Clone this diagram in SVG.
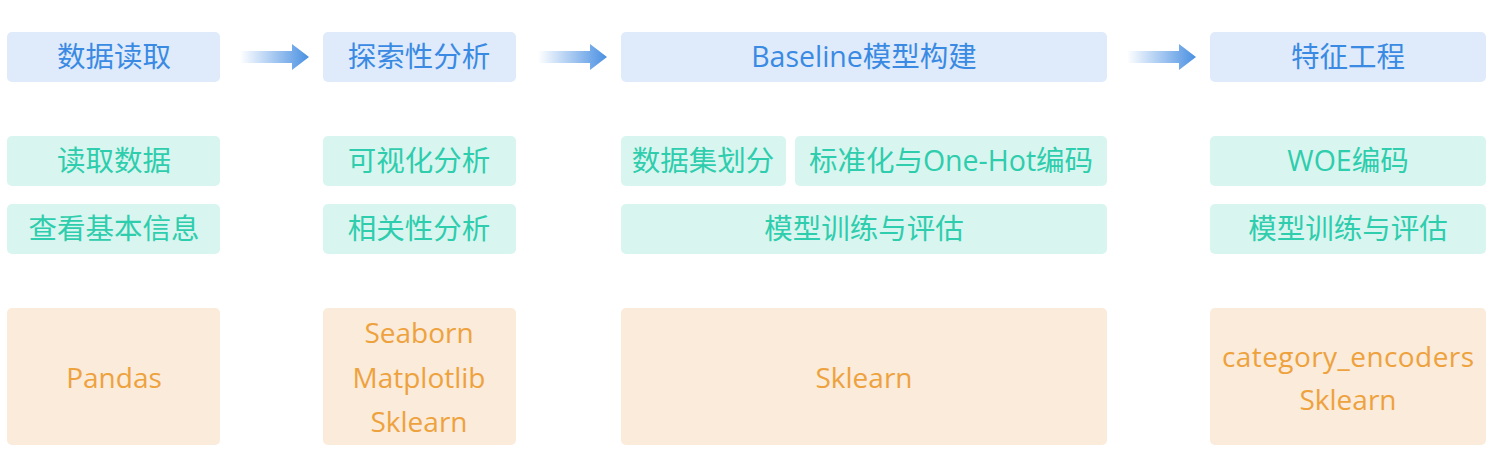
<svg xmlns="http://www.w3.org/2000/svg" width="1507" height="463" viewBox="0 0 1507 463">
<defs>
<linearGradient id="ag" x1="0" y1="0" x2="1" y2="0">
<stop offset="0" stop-color="#4a90e2" stop-opacity="0"/>
<stop offset="1" stop-color="#4a90e2" stop-opacity="1"/>
</linearGradient>
<style>
text{font-family:"Open Sans","Noto Sans CJK SC",sans-serif;text-anchor:middle;font-size:28.5px}
.s rect{fill:#dfebfa}
.s text{fill:#3a8ae4}
.t rect{fill:#d9f5ef}
.t text{fill:#2ecdad}
.l rect{fill:#fbebda}
.l text{fill:#eea23e;font-size:28px}
</style>
</defs>
<rect width="1507" height="463" fill="#ffffff"/>
<g id="connectors">
<path d="M240 51 H292 V44 L309 57 L292 70 V63 H240 Z" fill="url(#ag)"/>
<path d="M538 51 H590 V44 L607 57 L590 70 V63 H538 Z" fill="url(#ag)"/>
<path d="M1127 51 H1179 V44 L1196 57 L1179 70 V63 H1127 Z" fill="url(#ag)"/>
</g>
<g id="stage1" class="s"><rect x="7" y="32" width="213" height="50" rx="5"/><text x="114" y="67">数据读取</text></g>
<g id="stage2" class="s"><rect x="323" y="32" width="193" height="50" rx="5"/><text x="419" y="67">探索性分析</text></g>
<g id="stage3" class="s"><rect x="621" y="32" width="486" height="50" rx="5"/><text x="864" y="67">Baseline模型构建</text></g>
<g id="stage4" class="s"><rect x="1210" y="32" width="276" height="50" rx="5"/><text x="1348" y="67">特征工程</text></g>

<g id="s1a" class="t"><rect x="7" y="136" width="213" height="50" rx="5"/><text x="114" y="171">读取数据</text></g>
<g id="s1b" class="t"><rect x="7" y="204" width="213" height="50" rx="5"/><text x="114" y="239">查看基本信息</text></g>
<g id="s2a" class="t"><rect x="323" y="136" width="193" height="50" rx="5"/><text x="419" y="171">可视化分析</text></g>
<g id="s2b" class="t"><rect x="323" y="204" width="193" height="50" rx="5"/><text x="419" y="239">相关性分析</text></g>
<g id="s3a" class="t"><rect x="621" y="136" width="165" height="50" rx="5"/><text x="703" y="171">数据集划分</text></g>
<g id="s3b" class="t"><rect x="795" y="136" width="312" height="50" rx="5"/><text x="951" y="171">标准化与One-Hot编码</text></g>
<g id="s3c" class="t"><rect x="621" y="204" width="486" height="50" rx="5"/><text x="864" y="239">模型训练与评估</text></g>
<g id="s4a" class="t"><rect x="1210" y="136" width="276" height="50" rx="5"/><text x="1348" y="171">WOE编码</text></g>
<g id="s4b" class="t"><rect x="1210" y="204" width="276" height="50" rx="5"/><text x="1348" y="239">模型训练与评估</text></g>

<g id="lib1" class="l"><rect x="7" y="308" width="213" height="137" rx="5"/><text x="114" y="388">Pandas</text></g>
<g id="lib2" class="l"><rect x="323" y="308" width="193" height="137" rx="5"/><text x="419" y="343">Seaborn</text><text x="419" y="388">Matplotlib</text><text x="419" y="432">Sklearn</text></g>
<g id="lib3" class="l"><rect x="621" y="308" width="486" height="137" rx="5"/><text x="864" y="388">Sklearn</text></g>
<g id="lib4" class="l"><rect x="1210" y="308" width="276" height="137" rx="5"/><text x="1348" y="367" textLength="252" lengthAdjust="spacing">category_encoders</text><text x="1348" y="410">Sklearn</text></g>
</svg>
